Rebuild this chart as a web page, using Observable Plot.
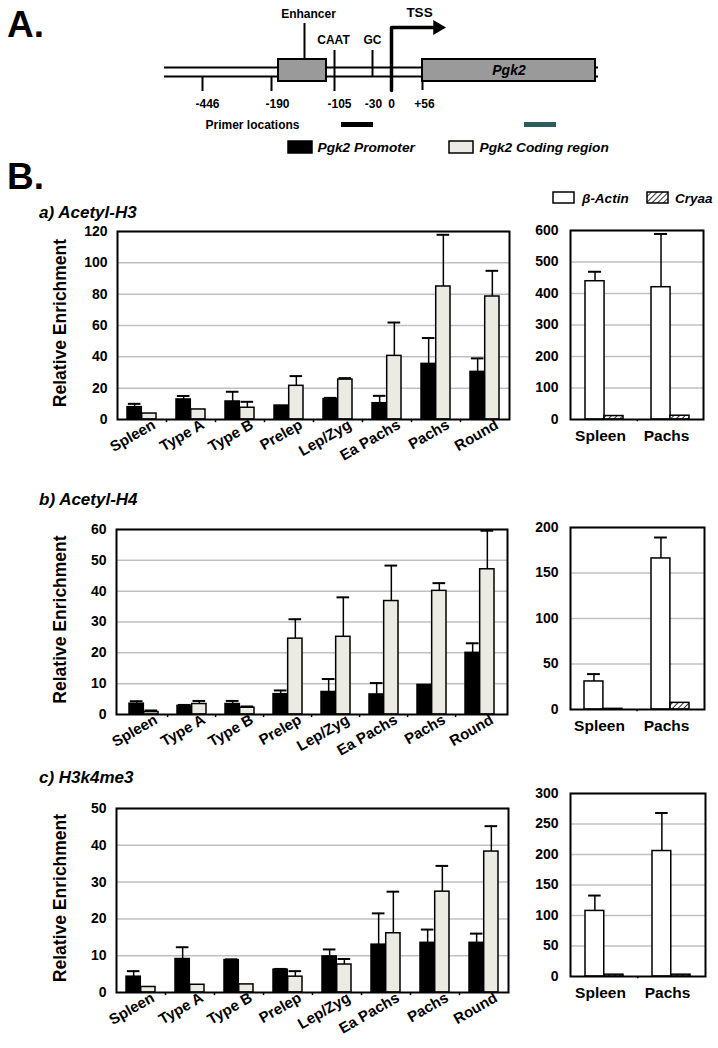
<!DOCTYPE html>
<html><head><meta charset="utf-8">
<script src="https://cdn.jsdelivr.net/npm/d3@7"></script>
<script src="https://cdn.jsdelivr.net/npm/@observablehq/plot@0.6"></script>
<style>
body{margin:0;background:#fff;}
#fig{position:relative;width:718px;height:1048px;overflow:hidden;font-family:"Liberation Sans",Arial,Helvetica,sans-serif;}
#fig > svg{position:absolute;}
</style></head><body>
<svg width="0" height="0" style="position:absolute"><defs>
<pattern id="hatch" patternUnits="userSpaceOnUse" width="4" height="4" patternTransform="rotate(45)">
<rect width="4" height="4" fill="white"/><line x1="0" y1="0" x2="0" y2="4" stroke="black" stroke-width="1.6"/>
</pattern></defs></svg>
<div id="fig"></div>
<script>
// ---------- data ----------
const stages = ["Spleen","Type A","Type B","Prelep","Lep/Zyg","Ea Pachs","Pachs","Round"];
const regions = ["Pgk2 Promoter","Pgk2 Coding region"];
const tissues = ["Spleen","Pachs"];
const controls = ["β-Actin","Cryaa"];
const yTitle = "Relative Enrichment";

// a) Acetyl-H3
const h3Promoter   = [7.9, 12.8, 11.5, 8.9, 13.0, 10.4, 35.5, 30.4];
const h3PromoterSD = [2.1, 2.2, 6.2, 0, 0.8, 4.7, 16.5, 8.6];
const h3Coding     = [3.8, 6.4, 7.5, 21.5, 25.5, 40.6, 84.9, 78.5];
const h3CodingSD   = [0, 0, 3.8, 6.2, 0.9, 21.3, 33.0, 16.4];
const h3Actin = [439, 420], h3ActinSD = [30, 169];
const h3Cryaa = [11, 12],  h3CryaaSD = [0, 0];

// b) Acetyl-H4
const h4Promoter   = [3.5, 2.8, 3.4, 6.6, 7.3, 6.5, 9.6, 20.0];
const h4PromoterSD = [0.8, 0.3, 1.0, 1.2, 4.2, 3.7, 0, 3.1];
const h4Coding     = [0.8, 3.4, 2.2, 24.6, 25.2, 36.8, 40.1, 47.1];
const h4CodingSD   = [0.5, 1.0, 0.4, 6.3, 12.8, 11.5, 2.5, 12.5];
const h4Actin = [30.8, 166], h4ActinSD = [8.1, 23];
const h4Cryaa = [0.7, 7.3],  h4CryaaSD = [0, 0];

// c) H3k4me3
const k4Promoter   = [4.3, 9.1, 8.8, 6.2, 9.8, 13.0, 13.5, 13.5];
const k4PromoterSD = [1.5, 3.2, 0.2, 0.2, 1.9, 8.5, 3.6, 2.5];
const k4Coding     = [1.5, 2.1, 2.2, 4.3, 7.6, 16.1, 27.4, 38.3];
const k4CodingSD   = [0, 0, 0, 1.5, 1.5, 11.3, 7.0, 6.9];
const k4Actin = [107.5, 205.7], k4ActinSD = [25.2, 62.3];
const k4Cryaa = [3, 3],  k4CryaaSD = [0, 0];

// gene schematic (schematic units)
const siteLabels = ["-446","-190","-105","-30","0","+56"];
const elementNames = ["Enhancer","CAAT","GC","TSS"];

const FONT = '"Liberation Sans", Arial, Helvetica, sans-serif';
const fig = document.getElementById("fig");
function place(svg, left, top){ svg.style.left = left+"px"; svg.style.top = top+"px"; fig.appendChild(svg); }

// ---------- A: gene schematic ----------
const strands = [{x1:164,x2:598,y:67},{x1:164,x2:598,y:76}];
const boxes = [{x1:278,x2:326,y1:59,y2:81,label:""},{x1:422,x2:595,y1:59,y2:81,label:"Pgk2"}];
const siteRules = [
  {x:304,y1:23,y2:59},{x:334,y1:50,y2:91},{x:372,y1:50,y2:76},
  {x:202,y1:76,y2:91},{x:271,y1:76,y2:91},{x:422,y1:81,y2:90}
];
const tssPath = [{x:391,y:90},{x:391,y:27},{x:434,y:27}];
const siteLabelX = [207,277,339,373,391,424];
const elementPos = [{x:308,y:14},{x:333,y:40},{x:372,y:40},{x:419,y:12}];
const primers = [{x1:341,x2:373,c:"black"},{x1:524,x2:556,c:"#2c5e5e"}];
const legendA = [{x1:288,x2:312,fill:"black",tx:317},{x1:449,x2:473,fill:"#ecebe3",tx:479}];

const diag = Plot.plot({
  width:718, height:160, margin:0,
  x:{domain:[0,718], range:[0,718], axis:null},
  y:{domain:[0,160], range:[0,160], axis:null},
  style:{fontFamily:FONT, fontWeight:"bold", fontSize:"11.5px", background:"transparent", color:"black"},
  marks:[
    Plot.ruleY(strands,{y:"y",x1:"x1",x2:"x2",strokeWidth:2}),
    Plot.ruleX(siteRules,{x:"x",y1:"y1",y2:"y2",strokeWidth:2}),
    Plot.rect(boxes,{x1:"x1",x2:"x2",y1:"y1",y2:"y2",fill:"#9a9a9a",stroke:"black",strokeWidth:2}),
    Plot.text(boxes,{x:d=>(d.x1+d.x2)/2,y:d=>(d.y1+d.y2)/2,text:"label",fontStyle:"italic",fontSize:14}),
    Plot.line(tssPath,{x:"x",y:"y",strokeWidth:3.5}),
    Plot.dot([tssPath[2]],{x:d=>d.x+3,y:"y",symbol:"triangle",rotate:90,r:5.5,fill:"black",stroke:null}),
    Plot.text(siteLabels,{x:(d,i)=>siteLabelX[i],y:()=>104,text:d=>d,fontSize:12}),
    Plot.text(elementNames,{x:(d,i)=>elementPos[i].x,y:(d,i)=>elementPos[i].y,text:d=>d,fontSize:(d)=>d==="TSS"?13.5:12}),
    Plot.text(["Primer locations"],{x:()=>205,y:()=>125,text:d=>d,textAnchor:"start",fontSize:12}),
    Plot.rect(primers,{x1:"x1",x2:"x2",y1:()=>122,y2:()=>127,fill:"c"}),
    Plot.rect(legendA,{x1:"x1",x2:"x2",y1:()=>141,y2:()=>153,fill:"fill",stroke:"black",strokeWidth:1.5}),
    Plot.text(regions,{x:(d,i)=>legendA[i].tx,y:()=>147,text:d=>d,textAnchor:"start",fontStyle:"italic",fontSize:13.7})
  ]
});
place(diag,0,0);

// ---------- B: panels ----------
const yTitles = [];
function leftPanel(cfg){
  const {promoter,promoterSD,coding,codingSD,yMax,yStep,box} = cfg;
  const rows = stages.flatMap((s,i)=>[
    {stage:s,region:regions[0],value:promoter[i],sd:promoterSD[i]},
    {stage:s,region:regions[1],value:coding[i],sd:codingSD[i]}]);
  const mt=12, mb=box.y2>900?56:60, mr=5, ml=box.x1;
  const width=box.x2+mr, height=(box.y2-box.y1)+mt+mb;
  const step=(box.x2-box.x1)/stages.length, bw=step*0.6, half=bw/2, cap=6.5;
  const prom=rows.filter(d=>d.region===regions[0]), cod=rows.filter(d=>d.region===regions[1]);
  const eP=prom.filter(d=>d.sd>0), eC=cod.filter(d=>d.sd>0);
  const ticks=d3.range(0,yMax+yStep/2,yStep);
  const p = Plot.plot({
    width,height,marginLeft:ml,marginRight:mr,marginTop:mt,marginBottom:mb,
    style:{fontFamily:FONT,fontWeight:"bold",fontSize:"14px",background:"transparent",color:"black"},
    x:{type:"band",domain:stages,paddingInner:0.4,paddingOuter:0.2},
    y:{domain:[0,yMax]},
    marks:[
      Plot.gridY(ticks.slice(1),{stroke:"#c0c0c0",strokeOpacity:1,strokeWidth:1.5}),
      Plot.ruleX(stages.slice(1),{x:d=>d,dx:-step/2,y1:0,y2:-yMax*0.017,strokeWidth:1.5}),
      Plot.barY(prom,{x:"stage",y:"value",insetRight:half,fill:"black",stroke:"black",strokeWidth:1.5}),
      Plot.barY(cod,{x:"stage",y:"value",insetLeft:half,fill:"#ecebe3",stroke:"black",strokeWidth:1.5}),
      Plot.ruleX(eP,{x:"stage",y1:"value",y2:d=>d.value+d.sd,dx:-half/2,strokeWidth:1.5}),
      Plot.tickY(eP,{x:"stage",y:d=>d.value+d.sd,insetLeft:half/2-cap,insetRight:bw-half/2-cap,strokeWidth:2}),
      Plot.ruleX(eC,{x:"stage",y1:"value",y2:d=>d.value+d.sd,dx:half/2,strokeWidth:1.5}),
      Plot.tickY(eC,{x:"stage",y:d=>d.value+d.sd,insetLeft:bw-half/2-cap,insetRight:half/2-cap,strokeWidth:2}),
      Plot.frame({stroke:"black",strokeWidth:2}),
      Plot.axisY({ticks,tickSize:0,tickPadding:10,label:null,fontSize:14}),
      Plot.axisX({tickSize:0,tickRotate:-30,tickPadding:4,label:null,fontSize:15,dx:12})
    ]
  });
  place(p,0,box.y1-mt);
  yTitles.push({x:60,y:(box.y1+box.y2)/2-2});
}

function rightPanel(cfg){
  const {actin,actinSD,cryaa,cryaaSD,yMax,yStep,box} = cfg;
  const L=520;
  const rows = tissues.flatMap((t,i)=>[
    {tissue:t,gene:controls[0],value:actin[i],sd:actinSD[i]},
    {tissue:t,gene:controls[1],value:cryaa[i],sd:cryaaSD[i]}]);
  const mt=12, mb=36, mr=8, ml=box.x1-L;
  const width=box.x2-L+mr, height=(box.y2-box.y1)+mt+mb;
  const step=(box.x2-box.x1)/tissues.length, bw=step*0.57, half=bw/2, cap=6.5;
  const act=rows.filter(d=>d.gene===controls[0]), cry=rows.filter(d=>d.gene===controls[1]);
  const eA=act.filter(d=>d.sd>0);
  const ticks=d3.range(0,yMax+yStep/2,yStep);
  const p = Plot.plot({
    width,height,marginLeft:ml,marginRight:mr,marginTop:mt,marginBottom:mb,
    style:{fontFamily:FONT,fontWeight:"bold",fontSize:"14px",background:"transparent",color:"black"},
    x:{type:"band",domain:tissues,paddingInner:0.43,paddingOuter:0.215},
    y:{domain:[0,yMax]},
    marks:[
      Plot.gridY(ticks.slice(1),{stroke:"#c0c0c0",strokeOpacity:1,strokeWidth:1.5}),
      Plot.ruleX(tissues.slice(1),{x:d=>d,dx:-step/2,y1:0,y2:-yMax*0.012,strokeWidth:1.5}),
      Plot.barY(act,{x:"tissue",y:"value",insetRight:half,fill:"white",stroke:"black",strokeWidth:1.5}),
      Plot.barY(cry,{x:"tissue",y:"value",insetLeft:half,fill:"url(#hatch)",stroke:"black",strokeWidth:1.5}),
      Plot.ruleX(eA,{x:"tissue",y1:"value",y2:d=>d.value+d.sd,dx:-half/2,strokeWidth:1.5}),
      Plot.tickY(eA,{x:"tissue",y:d=>d.value+d.sd,insetLeft:half/2-cap,insetRight:bw-half/2-cap,strokeWidth:2}),
      Plot.frame({stroke:"black",strokeWidth:2}),
      Plot.axisY({ticks,tickSize:0,tickPadding:12,label:null,fontSize:14}),
      Plot.axisX({tickSize:0,tickPadding:10,label:null,fontSize:15.5,dx:-4})
    ]
  });
  place(p,L,box.y1-mt);
}

leftPanel({promoter:h3Promoter,promoterSD:h3PromoterSD,coding:h3Coding,codingSD:h3CodingSD,yMax:120,yStep:20,box:{x1:117,x2:509,y1:231,y2:419}});
rightPanel({actin:h3Actin,actinSD:h3ActinSD,cryaa:h3Cryaa,cryaaSD:h3CryaaSD,yMax:600,yStep:100,box:{x1:570,x2:703,y1:230,y2:419}});
leftPanel({promoter:h4Promoter,promoterSD:h4PromoterSD,coding:h4Coding,codingSD:h4CodingSD,yMax:60,yStep:10,box:{x1:116,x2:507,y1:529,y2:714}});
rightPanel({actin:h4Actin,actinSD:h4ActinSD,cryaa:h4Cryaa,cryaaSD:h4CryaaSD,yMax:200,yStep:50,box:{x1:570,x2:704,y1:527,y2:709}});
leftPanel({promoter:k4Promoter,promoterSD:k4PromoterSD,coding:k4Coding,codingSD:k4CodingSD,yMax:50,yStep:10,box:{x1:116,x2:508,y1:808,y2:992}});
rightPanel({actin:k4Actin,actinSD:k4ActinSD,cryaa:k4Cryaa,cryaaSD:k4CryaaSD,yMax:300,yStep:50,box:{x1:570,x2:705,y1:793,y2:976}});

// ---------- titles & control legend ----------
const titles = [
  {t:"A.",x:7,y:37,size:37,italic:false},
  {t:"B.",x:7,y:189,size:37,italic:false},
  {t:"a) Acetyl-H3",x:39,y:218,size:17,italic:true},
  {t:"b) Acetyl-H4",x:39,y:505,size:17,italic:true},
  {t:"c) H3k4me3",x:39,y:783,size:17,italic:true}
];
const ov = d3.create("svg").attr("width",718).attr("height",1048)
  .style("pointer-events","none").style("font-family",FONT).style("font-weight","bold");
ov.selectAll("text.t").data(titles).join("text").attr("class","t")
  .attr("x",d=>d.x).attr("y",d=>d.y).attr("font-size",d=>d.size)
  .attr("font-style",d=>d.italic?"italic":"normal").text(d=>d.t);
ov.selectAll("text.yt").data(yTitles).join("text").attr("class","yt")
  .attr("transform",d=>`translate(${d.x},${d.y}) rotate(-90)`)
  .attr("text-anchor","middle").attr("dy","0.35em").attr("font-size",17.5).text(yTitle);
const legB = [{x:553,fill:"white",tx:582},{x:647,fill:"url(#hatch)",tx:675}];
ov.selectAll("rect.l").data(legB).join("rect").attr("class","l")
  .attr("x",d=>d.x).attr("y",192).attr("width",21).attr("height",11)
  .attr("fill",d=>d.fill).attr("stroke","black").attr("stroke-width",1.5);
ov.selectAll("text.l").data(controls).join("text").attr("class","l")
  .attr("x",(d,i)=>legB[i].tx).attr("y",203).attr("font-size",13.5).attr("font-style","italic").text(d=>d);
place(ov.node(),0,0);
</script>
</body></html>
